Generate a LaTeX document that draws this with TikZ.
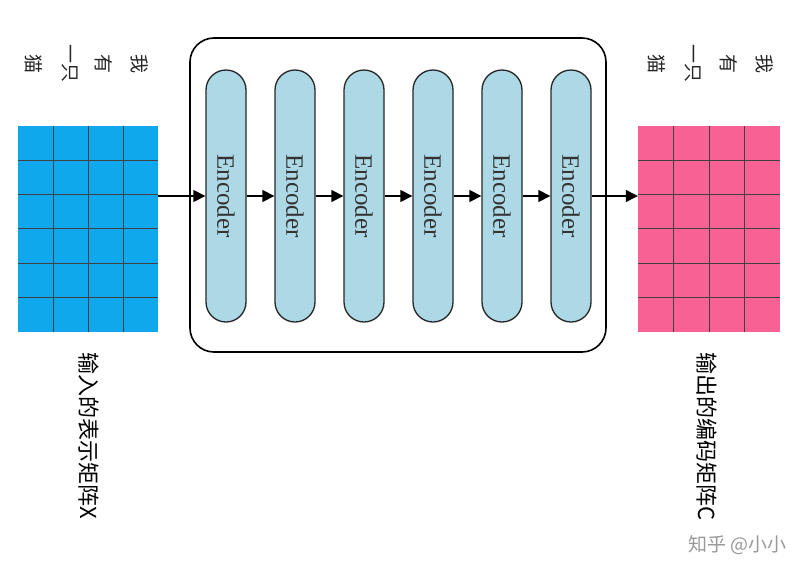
\documentclass[tikz,border=0pt]{standalone}
\usepackage{fontspec}
\setmainfont{Liberation Serif}
\newfontfamily\cjk{Noto Sans CJK SC}
\usetikzlibrary{arrows.meta}
\begin{document}
\begin{tikzpicture}[x=1pt,y=-1pt,
  enc/.style={draw=black!85,line width=1.3pt,fill=encfill,rounded corners=20pt,minimum width=40pt,minimum height=252pt,inner sep=0pt},
  arr/.style={-{Triangle[length=12pt,width=12pt]},line width=1.3pt},
  word/.style={font=\cjk\fontsize{19}{19}\selectfont,rotate=-90,inner sep=0pt,text=black!85},
  lab/.style={font=\cjk\fontsize{22}{22}\selectfont,rotate=-90,inner sep=0pt},
  gl/.style={black!75,line width=1pt}]
\definecolor{encfill}{HTML}{ADD8E6}
\definecolor{bluem}{HTML}{10A8EC}
\definecolor{pinkm}{HTML}{F86193}
\useasboundingbox (0,0) rectangle (804,579);
\fill[white] (0,0) rectangle (804,579);
\draw[line width=1.6pt,rounded corners=24pt] (190,38) rectangle (606,352);
\foreach \i/\x in {1/226,2/295,3/364,4/433,5/502,6/571}{
  \node[enc] (e\i) at (\x,196) {};
  \node[rotate=-90,font=\fontsize{25}{25}\selectfont,text=black!80] at (\x,196) {Encoder};
}
% matrices
\node[fill=bluem,minimum width=140pt,minimum height=206pt,inner sep=0pt] (mx) at (88,229) {};
\node[fill=pinkm,minimum width=142pt,minimum height=206pt,inner sep=0pt] (mc) at (709,229) {};
\foreach \k in {1,2,3}{\draw[gl] (18+35*\k,126) -- (18+35*\k,332);
  \draw[gl] (638+35.5*\k,126) -- (638+35.5*\k,332);}
\foreach \k in {1,...,5}{\draw[gl] (18,126+34.33*\k) -- (158,126+34.33*\k);
  \draw[gl] (638,126+34.33*\k) -- (780,126+34.33*\k);}
% arrows
\draw[arr] (mx.east |- e1.west) -- (e1.west);
\draw[arr] (e1.east) -- (e2.west); \draw[arr] (e2.east) -- (e3.west); \draw[arr] (e3.east) -- (e4.west);
\draw[arr] (e4.east) -- (e5.west); \draw[arr] (e5.east) -- (e6.west);
\draw[arr] (e6.east) -- (mc.west |- e6.east);
% words
\node[word] (w1) at (140,64) {我};
\node[word] (w2) at (104,64) {有};
\node[word] (w3) at (70,63) {一只};
\node[word] (w4) at (34,64) {猫};
\node[word] (v1) at (765,64) {我};
\node[word] (v2) at (729,64) {有};
\node[word] (v3) at (693,63) {一只};
\node[word] (v4) at (657,64) {猫};
\node[lab,anchor=west] (lx) at (89,352) {输入的表示矩阵X};
\node[lab,anchor=west] (lc) at (707,352) {输出的编码矩阵C};
\node[font=\cjk\fontsize{19}{19}\selectfont,text=black!40,anchor=east] (wm) at (790,545) {知乎 @小小};
\end{tikzpicture}
\end{document}
